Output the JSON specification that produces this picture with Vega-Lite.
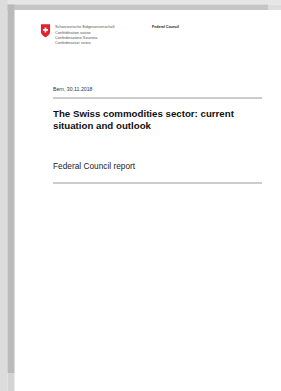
{
  "$schema": "https://vega.github.io/schema/vega-lite/v6.json",
  "width": 281,
  "height": 391,
  "padding": 0,
  "autosize": {"type": "none"},
  "background": "white",
  "config": {"view": {"stroke": null}},
  "datasets": {
    "shadow": [
      {"part": "top-outer", "x": 0, "x2": 281, "y": 0, "y2": 4.5},
      {"part": "left-outer", "x": 0, "x2": 7.5, "y": 0, "y2": 391},
      {"part": "top-inner", "x": 7.5, "x2": 268, "y": 4.5, "y2": 10},
      {"part": "top-fade", "x": 268, "x2": 281, "y": 4.5, "y2": 10},
      {"part": "left-inner", "x": 7.5, "x2": 14.5, "y": 4.5, "y2": 373},
      {"part": "bottom-fade", "x": 7.5, "x2": 14.5, "y": 373, "y2": 391}
    ],
    "rules": [
      {"x": 53, "x2": 262, "y": 98},
      {"x": 53, "x2": 262, "y": 183}
    ],
    "logo": [
      {"part": "shield", "x": 45.5, "y": 30.8},
      {"part": "cross", "x": 45.5, "y": 30.8}
    ],
    "texts": [
      {"role": "logo", "text": "Schweizerische Eidgenossenschaft", "x": 55, "y": 27.3},
      {"role": "logo", "text": "Confédération suisse", "x": 55, "y": 32.6},
      {"role": "logo", "text": "Confederazione Svizzera", "x": 55, "y": 37.9},
      {"role": "logo", "text": "Confederaziun svizra", "x": 55, "y": 43.1},
      {"role": "header", "text": "Federal Council", "x": 152, "y": 27.3},
      {"role": "date", "text": "Bern, 30.11.2018", "x": 53, "y": 88.5},
      {"role": "title", "text": "The Swiss commodities sector: current", "x": 53, "y": 113.5},
      {"role": "title", "text": "situation and outlook", "x": 53, "y": 125.5},
      {"role": "subtitle", "text": "Federal Council report", "x": 53, "y": 167}
    ]
  },
  "layer": [
    {
      "data": {"name": "shadow"},
      "mark": {"type": "rect"},
      "encoding": {
        "x": {"field": "x", "type": "quantitative", "scale": {"domain": [0, 281], "nice": false, "zero": false}, "axis": null},
        "x2": {"field": "x2"},
        "y": {"field": "y", "type": "quantitative", "scale": {"domain": [0, 391], "nice": false, "zero": false, "reverse": true}, "axis": null},
        "y2": {"field": "y2"},
        "color": {
          "field": "part", "type": "nominal", "legend": null,
          "scale": {
            "domain": ["top-outer", "left-outer", "top-inner", "top-fade", "left-inner", "bottom-fade"],
            "range": ["#e6e6e6", "#dcdcdc", "#c6c6c6", "#dedede", "#bababa", "#d4d4d4"]
          }
        }
      }
    },
    {
      "data": {"name": "rules"},
      "mark": {"type": "rule", "color": "#9a9a9a", "strokeWidth": 1},
      "encoding": {
        "x": {"field": "x", "type": "quantitative", "axis": null},
        "x2": {"field": "x2"},
        "y": {"field": "y", "type": "quantitative", "axis": null}
      }
    },
    {
      "data": {"name": "logo"},
      "transform": [{"filter": "datum.part === 'shield'"}],
      "mark": {"type": "point", "filled": true, "opacity": 1, "color": "#e5202a", "size": 169,
        "shape": "M-0.7,-1 L0.7,-1 L0.7,0.15 C0.7,0.6 0.25,0.85 0,1 C-0.25,0.85 -0.7,0.6 -0.7,0.15 Z"},
      "encoding": {
        "x": {"field": "x", "type": "quantitative", "axis": null},
        "y": {"field": "y", "type": "quantitative", "axis": null}
      }
    },
    {
      "data": {"name": "logo"},
      "transform": [{"filter": "datum.part === 'cross'"}],
      "mark": {"type": "point", "filled": true, "opacity": 1, "color": "white", "size": 169,
        "shape": "M-0.13,-0.52 L0.13,-0.52 L0.13,-0.26 L0.39,-0.26 L0.39,0 L0.13,0 L0.13,0.26 L-0.13,0.26 L-0.13,0 L-0.39,0 L-0.39,-0.26 L-0.13,-0.26 Z"},
      "encoding": {
        "x": {"field": "x", "type": "quantitative", "axis": null},
        "y": {"field": "y", "type": "quantitative", "axis": null}
      }
    },
    {
      "data": {"name": "texts"},
      "transform": [{"filter": "datum.role === 'logo'"}],
      "mark": {"type": "text", "align": "left", "baseline": "middle", "font": "Liberation Sans", "fontSize": 3.8, "color": "#555555"},
      "encoding": {
        "x": {"field": "x", "type": "quantitative", "axis": null},
        "y": {"field": "y", "type": "quantitative", "axis": null},
        "text": {"field": "text"}
      }
    },
    {
      "data": {"name": "texts"},
      "transform": [{"filter": "datum.role === 'header'"}],
      "mark": {"type": "text", "align": "left", "baseline": "middle", "font": "Liberation Sans", "fontSize": 3.6, "fontWeight": "bold", "color": "#222222"},
      "encoding": {
        "x": {"field": "x", "type": "quantitative", "axis": null},
        "y": {"field": "y", "type": "quantitative", "axis": null},
        "text": {"field": "text"}
      }
    },
    {
      "data": {"name": "texts"},
      "transform": [{"filter": "datum.role === 'date'"}],
      "mark": {"type": "text", "align": "left", "baseline": "middle", "font": "Liberation Sans", "fontSize": 5.2, "color": "#333333"},
      "encoding": {
        "x": {"field": "x", "type": "quantitative", "axis": null},
        "y": {"field": "y", "type": "quantitative", "axis": null},
        "text": {"field": "text"}
      }
    },
    {
      "data": {"name": "texts"},
      "transform": [{"filter": "datum.role === 'title'"}],
      "mark": {"type": "text", "align": "left", "baseline": "middle", "font": "Liberation Sans", "fontSize": 9.7, "fontWeight": "bold", "color": "#111111"},
      "encoding": {
        "x": {"field": "x", "type": "quantitative", "axis": null},
        "y": {"field": "y", "type": "quantitative", "axis": null},
        "text": {"field": "text"}
      }
    },
    {
      "data": {"name": "texts"},
      "transform": [{"filter": "datum.role === 'subtitle'"}],
      "mark": {"type": "text", "align": "left", "baseline": "middle", "font": "Liberation Sans", "fontSize": 8.3, "color": "#222222"},
      "encoding": {
        "x": {"field": "x", "type": "quantitative", "axis": null},
        "y": {"field": "y", "type": "quantitative", "axis": null},
        "text": {"field": "text"}
      }
    }
  ]
}
